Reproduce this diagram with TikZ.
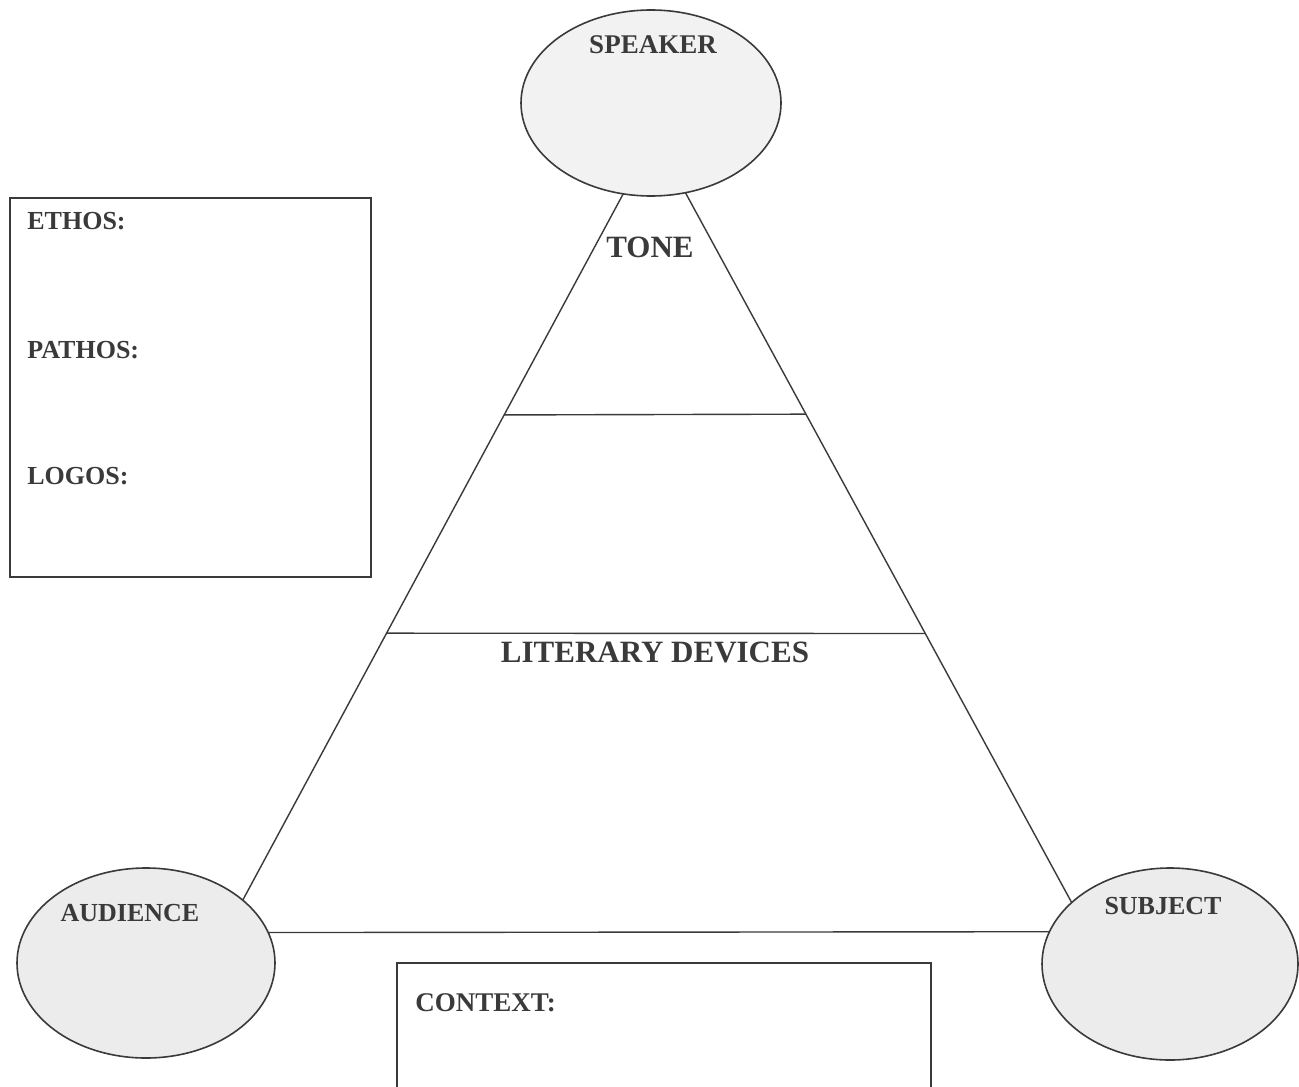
\documentclass[tikz,border=0pt]{standalone}
\usepackage{fontspec}
\setmainfont{Liberation Serif}
\usetikzlibrary{shapes.geometric,calc}
\definecolor{ink}{HTML}{3A3A3A}
\definecolor{bubble}{HTML}{ECECEC}
\tikzset{
  bubblenode/.style={ellipse,draw=ink,line width=0.8pt,fill=bubble,inner sep=0pt,outer sep=0pt},
  lbl/.style={text=ink,font=\bfseries\fontsize{13}{15}\selectfont,inner sep=0pt},
  biglbl/.style={text=ink,font=\bfseries\fontsize{15.5}{18}\selectfont,inner sep=0pt},
  edge/.style={draw=ink,line width=0.7pt},
  boxline/.style={draw=ink,line width=0.8pt}
}
\begin{document}
\begin{tikzpicture}[x=0.5pt,y=-0.5pt]
\path[use as bounding box,fill=white] (0,0) rectangle (1299,1086);
% ellipses
\node[bubblenode,fill=bubble!70!white,minimum width=130pt,minimum height=93pt] (speaker) at (651,103) {};
\node[bubblenode,minimum width=129pt,minimum height=95pt] (audience) at (146,963) {};
\node[bubblenode,minimum width=128pt,minimum height=96pt] (subject) at (1170,964) {};
\node[lbl,font=\bfseries\fontsize{13.5}{15}\selectfont] (speakerlbl) at (653,45) {SPEAKER};
\node[lbl] (audiencelbl) at (130,913) {AUDIENCE};
\node[lbl] (subjectlbl) at (1163,906) {SUBJECT};
% triangle sides
\draw[edge] (speaker.253) -- (audience.33);
\draw[edge] (speaker.291) -- (subject.148);
\draw[edge] (audience.14) -- (subject.165);
% dividers
\coordinate (l1) at ($(speaker.253)!0.313!(audience.33)$);
\coordinate (r1) at ($(speaker.291)!0.312!(subject.148)$);
\coordinate (l2) at ($(speaker.253)!0.622!(audience.33)$);
\coordinate (r2) at ($(speaker.291)!0.621!(subject.148)$);
\draw[edge] (l1) -- (r1);
\draw[edge] (l2) -- (r2);
\node[biglbl] (tone) at (650,247) {TONE};
\node[biglbl] (litdev) at (655,652) {LITERARY DEVICES};
% appeals box
\node[boxline,rectangle,minimum width=180.5pt,minimum height=189.5pt,inner sep=0pt] (appeals) at (190.5,387.5) {};
\node[lbl,anchor=west] (ethos) at (27,221) {ETHOS:};
\node[lbl,anchor=west] (pathos) at (27,350) {PATHOS:};
\node[lbl,anchor=west] (logos) at (27,476) {LOGOS:};
% context box
\begin{scope}
\clip (0,0) rectangle (1299,1086);
\node[boxline,rectangle,minimum width=267pt,minimum height=70pt,inner sep=0pt] (context) at (664,1033) {};
\end{scope}
\node[lbl,anchor=west,font=\bfseries\fontsize{13.5}{15}\selectfont] (contextlbl) at (415,1003) {CONTEXT:};
\end{tikzpicture}
\end{document}
